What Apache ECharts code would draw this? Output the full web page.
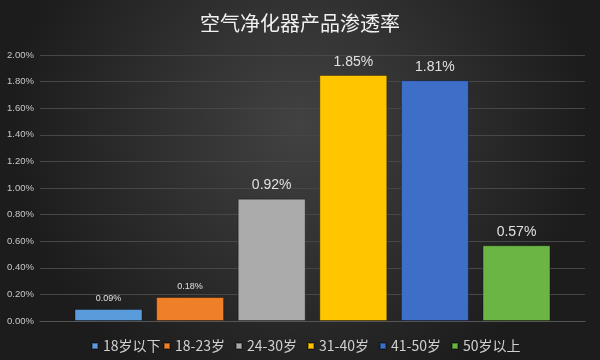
<!DOCTYPE html>
<html>
<head>
<meta charset="utf-8">
<script src="https://cdn.jsdelivr.net/npm/echarts@6/dist/echarts.min.js"></script>
<style>html,body{margin:0;padding:0;background:#262626;}#c{width:600px;height:360px;}</style>
</head>
<body>
<div id="c"></div>
<script>
const titleText = '空气净化器产品渗透率';
const categories = [''];
const seriesNames = ['18岁以下', '18-23岁', '24-30岁', '31-40岁', '41-50岁', '50岁以上'];
const seriesValues = [0.09, 0.18, 0.92, 1.85, 1.81, 0.57];
const colors = ['#5a9bdc', '#f07f2a', '#ababab', '#ffc600', '#3e6fc8', '#6ab544'];
const labelSizes = [9, 9, 14, 14, 14, 14];

const chart = echarts.init(document.getElementById('c'));
chart.setOption({
  backgroundColor: {
    type: 'radial', x: 0.5, y: 0.35, r: 0.8,
    colorStops: [{offset: 0, color: '#424242'}, {offset: 1, color: '#1c1c1c'}]
  },
  animation: false,
  title: {
    text: titleText, left: 'center', top: 8,
    textStyle: {color: '#f0f0f0', fontSize: 20, fontWeight: 'normal', fontFamily: 'Noto Sans CJK SC'}
  },
  legend: seriesNames.map((n, i) => ({
    top: 334, left: 86 + 72 * i, padding: [5, 5],
    itemWidth: 6, itemHeight: 6,
    icon: 'rect',
    textStyle: {color: '#d0d0d0', fontSize: 14, fontFamily: 'Noto Sans CJK SC'},
    data: [n]
  })),
  grid: {left: 40, right: 15, top: 55, bottom: 39},
  xAxis: {
    type: 'category', data: categories,
    axisLine: {show: true, lineStyle: {color: '#555'}},
    axisTick: {show: false}, axisLabel: {show: false}
  },
  yAxis: {
    type: 'value', min: 0, max: 2, interval: 0.2,
    axisLabel: {
      color: '#c8c8c8', fontSize: 9.5, align: 'left', margin: 33,
      formatter: v => v.toFixed(2) + '%'
    },
    axisLine: {show: false}, axisTick: {show: false},
    splitLine: {lineStyle: {color: '#474747', width: 1}}
  },
  series: seriesNames.map((n, i) => ({
    name: n, type: 'bar', data: [seriesValues[i]],
    barWidth: 68, barGap: '20%',
    itemStyle: {color: colors[i], borderColor: 'rgba(0,0,0,0.35)', borderWidth: 1},
    label: {
      show: true, position: 'top', distance: 6,
      color: '#e0e0e0', fontSize: labelSizes[i],
      formatter: p => p.value.toFixed(2) + '%'
    }
  }))
});
</script>
</body>
</html>
